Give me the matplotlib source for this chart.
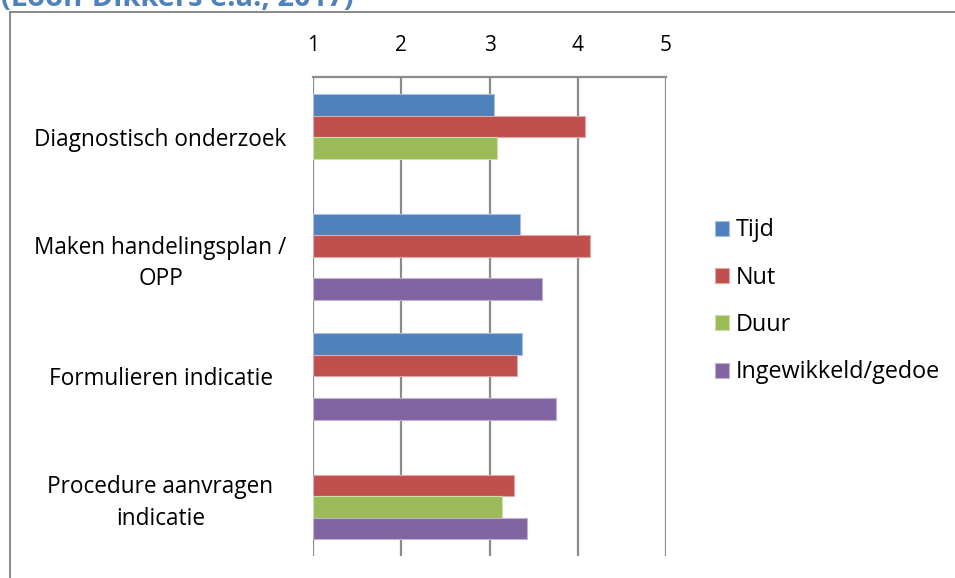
import numpy as np
import matplotlib
matplotlib.use("Agg")
import matplotlib.pyplot as plt
from matplotlib.lines import Line2D

categories = ["Diagnostisch onderzoek", "Maken handelingsplan /\nOPP",
              "Formulieren indicatie", "Procedure aanvragen\nindicatie"]
series_names = ["Tijd", "Nut", "Duur", "Ingewikkeld/gedoe"]
tijd = [3.05, 3.35, 3.37, np.nan]
nut = [4.08, 4.14, 3.31, 3.28]
duur = [3.08, np.nan, np.nan, 3.14]
ingewikkeld = [np.nan, 3.60, 3.76, 3.42]
x_ticks = [1, 2, 3, 4, 5]
title_text = "(Loon-Dikkers e.a., 2017)"

colors = ["#4F81BD", "#C0504D", "#9BBB59", "#8064A2"]
edge_colors = ["#A7C0DE", "#E0A8A6", "#CDDDAC", "#BFB1D0"]

plt.rcParams['font.family'] = ['Open Sans', 'DejaVu Sans']

fig = plt.figure(figsize=(9.55, 5.78), dpi=100)
W, H = 955, 578
ax = fig.add_axes([313.3 / W, 1 - 556 / H, (665.7 - 313.3) / W, (556 - 77.3) / H])

values = [tijd, nut, duur, ingewikkeld]
y = np.arange(len(categories))
bh = 0.18
handles = []
for i, (name, vals) in enumerate(zip(series_names, values)):
    off = (i - 1.5) * bh
    v = np.array(vals, dtype=float)
    mask = ~np.isnan(v)
    b = ax.barh(y[mask] + off, v[mask] - 1, left=1, height=bh, color=colors[i],
                edgecolor=edge_colors[i], linewidth=0.8, label=name, zorder=3)
    handles.append(b)

ax.set_xlim(1, 5)
ax.set_ylim(3.5, -0.5)
ax.set_xticks(x_ticks)
ax.set_xticklabels([str(t) for t in x_ticks], fontsize=15)
ax.xaxis.tick_top()
ax.tick_params(axis='x', length=0, pad=15)
ax.set_yticks(y)
ax.set_yticklabels(categories, fontsize=16.3, linespacing=1.42, ha='center')
ax.tick_params(axis='y', length=0, pad=110)
for lbl in ax.get_yticklabels():
    lbl.set_multialignment('center')
ax.grid(axis='x', color='#8C8C8C', linewidth=1.6, zorder=0)
for s in ['left', 'right', 'bottom']:
    ax.spines[s].set_visible(False)
ax.spines['top'].set_color('#8C8C8C')
ax.spines['top'].set_linewidth(1.6)

leg = fig.legend(handles=handles, labels=series_names, loc='upper left',
                 bbox_to_anchor=(705.5 / W, 1 - 209 / H), frameon=False, fontsize=16.8,
                 handlelength=0.6, handleheight=0.6, handletextpad=0.3,
                 labelspacing=1.0, borderaxespad=0)

# outer frame of the chart
fig.add_artist(Line2D([9.5 / W, 9.5 / W], [0, 1 - 12 / H], color='#8C8C8C', linewidth=1.5))
fig.add_artist(Line2D([9.5 / W, 1], [1 - 12 / H, 1 - 12 / H], color='#8C8C8C', linewidth=1.5))

fig.text(1 / W, 1 - 6.5 / H, title_text, color='#4F81BD', fontsize=21,
         fontweight='bold', ha='left', va='baseline')

fig.savefig("out.png", dpi=100)
